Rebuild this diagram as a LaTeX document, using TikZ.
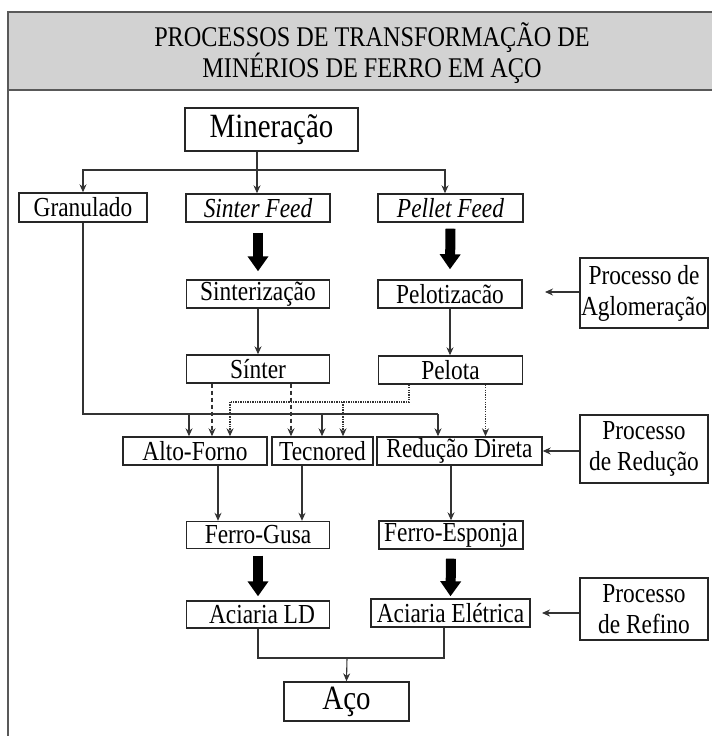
\documentclass[tikz,border=0pt]{standalone}
\usepackage{fontspec}
\setmainfont[FakeStretch=0.85]{Liberation Serif}
\usetikzlibrary{arrows.meta}
\begin{document}
\begin{tikzpicture}[x=1pt,y=-1pt,
  box/.style={draw=black!85, line width=1.4pt, inner sep=0pt, align=center,
    font=\fontsize{27.5}{31}\selectfont, minimum width=143pt, minimum height=28pt},
  conn/.style={draw=black!80, line width=1.1pt},
  arr/.style={conn,-{Stealth[length=8pt,width=7pt]}},
  dashline/.style={arr, dash pattern=on 4pt off 3pt},
  dotline/.style={conn, dash pattern=on 1.3pt off 1.1pt},
  dotarr/.style={arr, dash pattern=on 1.3pt off 1.1pt},
  fat/.style={draw=black, line width=10pt, -{Triangle[length=15pt,width=20pt]}},
]
\useasboundingbox (0,0) rectangle (712,736);
\fill[gray!35] (8,12) rectangle (712,90);
\draw[line width=1.8pt, black!65] (8,736) -- (8,12) -- (712,12);
\draw[line width=1.8pt, black!65] (8,90) -- (712,90);

\node[font=\fontsize{28.5}{30}\selectfont, align=center] (title) at (372,53)
  {PROCESSOS DE TRANSFORMAÇÃO DE\\MINÉRIOS DE FERRO EM AÇO};

\node[box, minimum width=173pt, minimum height=43pt, font=\fontsize{34}{36}\selectfont] (min) at (271.5,129.5) {Mineração};
\node[box, minimum width=128pt, minimum height=29pt] (gran) at (83,207.5) {Granulado};
\node[box, minimum width=144pt] (sf) at (258,208) {\itshape Sinter Feed};
\node[box, minimum width=145pt] (pf) at (450.5,208) {\itshape Pellet Feed};
\node[box] (sint) at (258,294) {Sinterização};
\node[box, minimum width=144pt] (pelz) at (450,294) {Pelotizacão};
\node[box] (sinter) at (258,369) {Sínter};
\node[box, minimum width=144pt] (pelota) at (450.5,370) {Pelota};
\node[box, minimum width=144pt] (af) at (195,451) {Alto-Forno};
\node[box, minimum width=101pt] (tec) at (322.5,451) {Tecnored};
\node[box, minimum width=165pt] (rd) at (459.5,451) {Redução Direta};
\node[box, minimum height=27pt] (fg) at (258,535) {Ferro-Gusa};
\node[box, minimum width=144pt] (fe) at (451,535) {Ferro-Esponja};
\node[box, minimum height=27pt] (ald) at (258,614.5) {\hspace{8pt}Aciaria LD};
\node[box, minimum width=159pt] (ae) at (450.5,613) {Aciaria Elétrica};
\node[box, minimum width=125pt, minimum height=39pt, font=\fontsize{34}{36}\selectfont] (aco) at (346.5,701.5) {Aço};
\node[box, minimum width=128pt, minimum height=70pt] (pag) at (644,293) {Processo de\\Aglomeração};
\node[box, minimum width=128pt, minimum height=68pt] (pred) at (644,449) {Processo\\de Redução};
\node[box, minimum width=128pt, minimum height=62pt] (pref) at (644,609) {Processo\\de Refino};

% Mineracao distribution
\coordinate (m1) at ([xshift=-14.5pt]min.south);
\coordinate (j1) at (257,170);
\draw[arr] (m1) -- (m1 |- sf.north);
\coordinate (pfn) at ([xshift=-5.5pt]pf.north);
\draw[arr] (j1) -| (gran.north);
\draw[arr] (j1) -| (pfn);

% thick arrows
\draw[fat] ([yshift=-10pt]sf.south) -- ([yshift=8pt]sint.north);
\draw[fat] ([yshift=-6pt]pf.south) -- ([yshift=10pt]pelz.north);
\draw[fat] ([yshift=-6.5pt]fg.south) -- ([yshift=4pt]ald.north);
\draw[fat] ([yshift=-9pt]fe.south) -- ([yshift=2pt]ae.north);

\draw[arr] (sint.south) -- (sinter.north);
\draw[arr] (pelz.south) -- (pelz.south |- pelota.north);

% Granulado line
\coordinate (g0) at (83,414);
\coordinate (g1) at (189,414);
\coordinate (g2) at (322,414);
\coordinate (g3) at (438,414);
\draw[conn] (gran.south) -- (g0) -- (g3);
\draw[arr] (g1) -- (g1 |- af.north);
\draw[arr] (g2) -- (g2 |- tec.north);
\draw[arr] (g3) -- (g3 |- rd.north);

% Sinter dashed
\coordinate (s1) at ([xshift=-46pt]sinter.south);
\coordinate (s2) at ([xshift=33pt]sinter.south);
\draw[dashline] (s1) -- (s1 |- af.north);
\draw[dashline] (s2) -- (s2 |- tec.north);

% Pelota dotted
\coordinate (p1) at ([xshift=-41.5pt]pelota.south);
\coordinate (p2) at (409,402);
\coordinate (p3) at (230,402);
\coordinate (p4) at (343,402);
\draw[dotline] (p1) -- (p2) -- (p3);
\draw[dotarr] (p3) -- (p3 |- af.north);
\draw[dotarr] (p4) -- (p4 |- tec.north);
\coordinate (p5) at ([xshift=35pt]pelota.south);
\draw[dotarr] (p5) -- (p5 |- rd.north);

% to Ferro-Gusa / Esponja
\coordinate (a1) at ([xshift=23pt]af.south);
\coordinate (a2) at ([xshift=-20.5pt]tec.south);
\coordinate (a3) at ([xshift=-8.5pt]rd.south);
\draw[arr] (a1) -- (a1 |- fg.north);
\draw[arr] (a2) -- (a2 |- fg.north);
\draw[arr] (a3) -- (a3 |- fe.north);

% to Aco
\coordinate (j2) at (347,658);
\coordinate (e1) at ([xshift=-6.5pt]ae.south);
\draw[conn] (ald.south) |- (j2);
\draw[conn] (e1) |- (j2);
\draw[arr] (j2) -- (aco.north);

% side process arrows
\coordinate (ag) at (545,292);
\draw[arr] (pag.west |- ag) -- (ag);
\draw[arr] (pred.west |- rd.east) -- (rd.east);
\coordinate (rf) at (542,613);
\draw[arr] (pref.west |- rf) -- (rf);
\end{tikzpicture}
\end{document}
